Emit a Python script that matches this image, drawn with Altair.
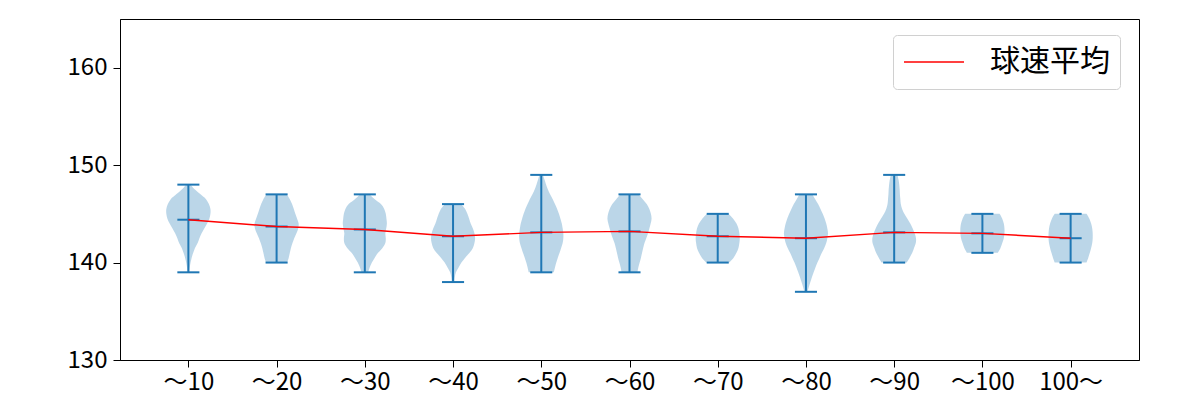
import altair as alt
import numpy as np
import pandas as pd

categories = ["〜10", "〜20", "〜30", "〜40", "〜50", "〜60", "〜70", "〜80", "〜90", "〜100", "100〜"]
maxs = [148, 147, 147, 146, 149, 147, 145, 147, 149, 145, 145]
mins = [139, 140, 139, 138, 139, 139, 140, 137, 140, 141, 140]
means = [144.4, 143.7, 143.4, 142.7, 143.1, 143.2, 142.7, 142.5, 143.1, 143.0, 142.5]

# relative half-widths of each violin, read from max down to min in 0.5 km/h steps
violin_widths = [
    [0.1, 0.3, 0.55, 0.8, 0.93, 1.0, 1.0, 0.95, 0.85, 0.72, 0.6, 0.5, 0.42, 0.3, 0.22, 0.15, 0.1, 0.06, 0.04],
    [0.45, 0.6, 0.7, 0.78, 0.85, 0.93, 1.0, 0.98, 0.9, 0.8, 0.72, 0.65, 0.6, 0.55, 0.48],
    [0.2, 0.45, 0.73, 0.88, 0.95, 0.98, 1.0, 0.97, 0.93, 0.95, 0.93, 0.8, 0.6, 0.45, 0.32, 0.22, 0.15],
    [0.35, 0.55, 0.65, 0.73, 0.8, 0.9, 0.97, 1.0, 0.97, 0.9, 0.75, 0.55, 0.38, 0.25, 0.13, 0.08, 0.06],
    [0.08, 0.15, 0.22, 0.3, 0.4, 0.52, 0.62, 0.72, 0.8, 0.87, 0.93, 0.97, 1.0, 1.0, 0.97, 0.9, 0.83, 0.75, 0.68, 0.62, 0.57],
    [0.4, 0.6, 0.78, 0.9, 0.97, 1.0, 0.96, 0.9, 0.84, 0.76, 0.68, 0.62, 0.57, 0.52, 0.46, 0.4, 0.36],
    [0.48, 0.7, 0.85, 0.94, 0.98, 1.0, 0.98, 0.94, 0.85, 0.72, 0.52],
    [0.28, 0.42, 0.55, 0.66, 0.76, 0.85, 0.92, 0.97, 1.0, 0.97, 0.92, 0.83, 0.72, 0.62, 0.52, 0.43, 0.35, 0.27, 0.2, 0.13, 0.07],
    [0.15, 0.2, 0.23, 0.25, 0.26, 0.28, 0.3, 0.36, 0.46, 0.6, 0.73, 0.84, 0.93, 0.99, 0.98, 0.9, 0.82, 0.7, 0.57],
    [0.78, 0.9, 0.97, 1.0, 1.0, 0.97, 0.9, 0.82, 0.7],
    [0.72, 0.85, 0.93, 0.98, 1.0, 1.0, 0.98, 0.93, 0.87, 0.8, 0.72],
]

HALF = 0.25   # violin half width (data units)

rows = []
for i, w in enumerate(violin_widths):
    pos = i + 1
    for k, f in enumerate(w):
        yv = maxs[i] - 0.5 * k
        rows.append({"pos": pos, "v": yv, "left": pos - HALF * f, "right": pos + HALF * f})
vdf = pd.DataFrame(rows).sort_values(["pos", "v"])

sdf = pd.DataFrame({
    "pos": list(range(1, 12)),
    "cat": categories,
    "vmin": mins,
    "vmax": maxs,
    "mean": means,
    "series": ["球速平均"] * 11,
})

label_expr = "[" + ",".join(f"'{c}'" for c in categories) + "][datum.value - 1]"

xscale = alt.Scale(domain=[0.225, 11.775], nice=False, zero=False)
yscale = alt.Scale(domain=[130, 165], nice=False, zero=False)
xaxis = alt.Axis(values=list(range(1, 12)), labelExpr=label_expr, title=None, grid=False, labelPadding=3)
yaxis = alt.Axis(values=[130, 140, 150, 160], title=None, grid=False, labelPadding=6)

BLUE = "#1f77b4"

violins = alt.Chart(vdf).mark_area(
    orient="horizontal", color=BLUE, opacity=0.3, interpolate="catmull-rom"
).encode(
    y=alt.Y("v:Q", scale=yscale, axis=yaxis),
    x=alt.X("left:Q", scale=xscale, axis=xaxis),
    x2="right:Q",
    detail="pos:N",
)

base = alt.Chart(sdf).transform_calculate(lo="datum.pos - 0.125", hi="datum.pos + 0.125")

stems = base.mark_rule(color=BLUE, strokeWidth=2).encode(
    x=alt.X("pos:Q", scale=xscale, axis=xaxis),
    y=alt.Y("vmin:Q", scale=yscale, axis=yaxis),
    y2="vmax:Q",
)
cap_max = base.mark_rule(color=BLUE, strokeWidth=2).encode(
    x=alt.X("lo:Q", scale=xscale, axis=xaxis), x2="hi:Q",
    y=alt.Y("vmax:Q", scale=yscale, axis=yaxis),
)
cap_min = base.mark_rule(color=BLUE, strokeWidth=2).encode(
    x=alt.X("lo:Q", scale=xscale, axis=xaxis), x2="hi:Q",
    y=alt.Y("vmin:Q", scale=yscale, axis=yaxis),
)
cap_mean = base.mark_rule(color=BLUE, strokeWidth=2).encode(
    x=alt.X("lo:Q", scale=xscale, axis=xaxis), x2="hi:Q",
    y=alt.Y("mean:Q", scale=yscale, axis=yaxis),
)

mean_line = alt.Chart(sdf).mark_line(strokeWidth=1.4).encode(
    x=alt.X("pos:Q", scale=xscale, axis=xaxis),
    y=alt.Y("mean:Q", scale=yscale, axis=yaxis),
    color=alt.Color(
        "series:N",
        scale=alt.Scale(domain=["球速平均"], range=["#ff0000"]),
        legend=alt.Legend(
            title=None, orient="none", legendX=773, legendY=16,
            symbolType="stroke", symbolSize=3600, symbolStrokeWidth=1.4,
            labelFontSize=30, labelFont="Noto Sans CJK JP", labelColor="black",
            labelOffset=25, padding=10, clipHeight=34,
            fillColor="white", strokeColor="#d0d0d0", cornerRadius=4,
        ),
    ),
)

chart = alt.layer(violins, stems, cap_max, cap_min, cap_mean, mean_line).properties(
    width=1019, height=341,
    autosize=alt.AutoSizeParams(type="none"),
    padding={"left": 112, "top": 11, "right": 53, "bottom": 38},
).configure_view(
    stroke="black", strokeWidth=1
).configure_axis(
    labelFont="Noto Sans CJK JP", labelFontSize=24, labelColor="black",
    domainColor="black", tickColor="black", tickSize=7,
    domainWidth=1, tickWidth=1,
)

chart.save("out.html", embed_options={"renderer": "svg", "actions": False})
